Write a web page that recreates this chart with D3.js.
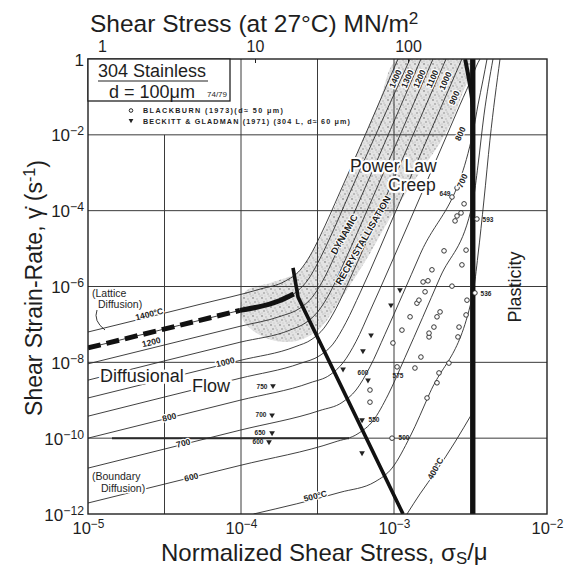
<!DOCTYPE html>
<html><head><meta charset="utf-8">
<script src="https://cdn.jsdelivr.net/npm/d3@7"></script>
<style>
body{margin:0;background:#fff}
svg text{font-family:"Liberation Sans",Arial,sans-serif;fill:#1e1e1e}
</style></head><body>
<svg id="map" width="571" height="569"></svg>
<script>
// ---------- axis values ----------
const stressTicks = [1e-5, 1e-4, 1e-3, 1e-2];            // normalized shear stress σs/μ
const rateTicks   = [1, 1e-2, 1e-4, 1e-6, 1e-8, 1e-10, 1e-12]; // shear strain-rate (1/s)
const gridStressExp = [-4.5, -4, -3.5, -3, -2.5];
const gridRateExp   = [-2, -4, -6, -8, -10];
const shearStressTicks = [1, 10, 100];                    // MN/m² at 27 °C
const shearModulus = 81000;                               // MN/m², 304 stainless at 27 °C

// ---------- temperature contours: [log10(σs/μ), log10(γ̇)] ----------
const contour1400 = [[-5,-7.20],[-4.268,-6.47],[-3.876,-6.07],[-3.712,-5.86],[-3.614,-5.57],[-3.549,-5.19],[-3.484,-4.68],[-3.353,-3.51],[-2.974,0]];
const contour1300 = [[-5,-7.62],[-4.007,-6.63],[-3.745,-6.37],[-3.614,-6.06],[-3.562,-5.82],[-3.497,-5.37],[-3.418,-4.71],[-3.288,-3.52],[-2.895,0]];
const contour1200 = [[-5,-8.04],[-4.007,-7.05],[-3.745,-6.79],[-3.614,-6.57],[-3.536,-6.29],[-3.471,-5.89],[-3.386,-5.19],[-3.222,-3.70],[-2.824,0]];
const contour1100 = [[-5,-8.47],[-4.007,-7.47],[-3.680,-7.15],[-3.575,-6.95],[-3.497,-6.66],[-3.418,-6.16],[-3.320,-5.31],[-3.157,-3.82],[-2.745,0]];
const contour1000 = [[-5,-8.94],[-4.007,-7.95],[-3.647,-7.59],[-3.536,-7.39],[-3.458,-7.10],[-3.379,-6.58],[-3.288,-5.80],[-3.092,-4.00],[-2.660,0]];
const contour900  = [[-5,-9.42],[-4.007,-8.42],[-3.614,-8.03],[-3.484,-7.82],[-3.399,-7.52],[-3.314,-6.95],[-3.222,-6.17],[-2.961,-3.76],[-2.556,0]];
const contour800  = [[-5,-10.0],[-4.007,-9.00],[-3.549,-8.54],[-3.418,-8.33],[-3.333,-8.01],[-3.248,-7.45],[-3.157,-6.65],[-2.895,-4.25],[-2.569,-1.21],[-2.484,-0.42],[-2.464,-0.21],[-2.438,0]];
const contour700  = [[-5,-10.79],[-4.007,-9.79],[-3.484,-9.27],[-3.340,-9.06],[-3.248,-8.73],[-3.157,-8.12],[-3.059,-7.26],[-2.830,-5.16],[-2.484,-1.94],[-2.451,-1.21],[-2.418,-0.55],[-2.392,0]];
const contour600  = [[-5,-11.71],[-4.007,-10.72],[-3.386,-10.10],[-3.235,-9.88],[-3.137,-9.54],[-3.039,-8.86],[-2.928,-7.87],[-2.699,-5.76],[-2.484,-3.76],[-2.451,-2.80],[-2.412,-1.48],[-2.353,0]];
const contour500  = [[-3.918,-12],[-3.353,-11.43],[-3.124,-11.15],[-3.013,-10.79],[-2.895,-9.96],[-2.765,-8.80],[-2.484,-6.19],[-2.451,-5.17],[-2.412,-3.72],[-2.373,-2.14],[-2.307,0]];
const contour400  = [[-2.915,-12],[-2.830,-11.47],[-2.725,-10.87],[-2.601,-10.10],[-2.484,-9.31]];

// ---------- field boundaries ----------
const latticeBoundaryDashed = [[-5,-7.62],[-4.007,-6.63]];
const latticeBoundarySolid  = [[-4.007,-6.63],[-3.745,-6.37],[-3.655,-6.20]];
const creepBoundary = [[-3.660,-5.51],[-3.627,-6.28],[-2.941,-12]];
const plasticityStressExp = -2.484;
const plasticityKnee = [[-2.535,0],[-2.497,-0.80],[-2.484,-1.25]];
const recrystallisationField = [[-2.974,0],[-3.092,-1.08],[-3.209,-2.19],[-3.320,-3.24],[-3.431,-4.30],[-3.536,-5.09],[-3.627,-5.62],[-3.810,-5.91],[-3.974,-6.14],[-3.993,-6.83],[-3.863,-7.31],[-3.667,-7.46],[-3.497,-7.15],[-3.353,-6.36],[-3.190,-5.35],[-3.013,-4.11],[-2.830,-2.98],[-2.667,-2.00],[-2.569,-1.08],[-2.503,0]];

// ---------- experimental data ----------
const blackburnPoints = [[-3.007,-7.49],[-2.948,-7.15],[-2.895,-6.80],[-2.850,-6.44],[-2.837,-6.36],[-2.797,-6.14],[-2.810,-5.88],[-2.778,-5.85],[-2.752,-5.56],[-2.673,-5.06],[-2.601,-4.27],[-2.588,-4.14],[-2.562,-4.06],[-2.542,-3.82],[-2.980,-8.12],
  [-2.863,-8.15],[-2.824,-7.86],[-2.771,-7.33],[-2.771,-7.23],[-2.739,-7.07],[-2.719,-6.80],[-2.699,-6.67],[-2.621,-5.99],[-2.556,-5.43],[-2.529,-5.04],
  [-2.784,-8.94],[-2.719,-8.54],[-2.706,-8.28],[-2.641,-8.02],[-2.582,-7.33],[-2.575,-7.07],[-2.529,-6.75],[-2.523,-6.36],
  [-3.157,-8.73],[-3.157,-9.05],[-2.458,-4.22],[-2.471,-6.17],[-2.621,-3.64],[-2.588,-3.40],[-3.013,-10.0]];
const beckittPoints = [[-3.333,-8.18],[-3.203,-7.70],[-3.150,-7.28],[-3.020,-6.49],[-2.961,-6.09],[-3.170,-8.47],[-3.791,-8.62],[-3.797,-9.39],[-3.797,-9.86],[-3.817,-10.10],[-3.209,-9.52],[-3.209,-10.39]];

const contours = [
  {t:1400, pts:contour1400}, {t:1300, pts:contour1300}, {t:1200, pts:contour1200},
  {t:1100, pts:contour1100}, {t:1000, pts:contour1000}, {t:900, pts:contour900},
  {t:800, pts:contour800}, {t:700, pts:contour700}, {t:600, pts:contour600},
  {t:500, pts:contour500}, {t:400, pts:contour400}
];

// ---------- layout ----------
const L = 88, R = 547, T = 59, B = 514;
const svg = d3.select("#map");
const x = d3.scaleLog().domain([1e-5, 1e-2]).range([L, R]);
const y = d3.scaleLog().domain([1e-12, 1]).range([B, T]);
const xTop = d3.scaleLog().domain([1e-5 * shearModulus, 1e-2 * shearModulus]).range([L, R]);
const px = e => x(Math.pow(10, e));
const py = e => y(Math.pow(10, e));

const defs = svg.append("defs");
defs.append("clipPath").attr("id", "plotClip").append("rect")
  .attr("x", L).attr("y", T).attr("width", R - L).attr("height", B - T);
const pat = defs.append("pattern").attr("id", "stipple").attr("patternUnits", "userSpaceOnUse")
  .attr("width", 9).attr("height", 9);
pat.append("rect").attr("width", 9).attr("height", 9).attr("fill", "#e3e3e3");
[[1,1,0.9,"#959595"],[5,2,0.7,"#ababab"],[3,5,0.8,"#888"],[7,6,0.7,"#a0a0a0"],[1,7,0.6,"#b0b0b0"],[6,4,0.5,"#999"],[8,8,0.6,"#a5a5a5"],[4,8,0.5,"#b5b5b5"]]
  .forEach(([cx, cy, r, c]) => pat.append("circle").attr("cx", cx).attr("cy", cy).attr("r", r).attr("fill", c));

const plot = svg.append("g").attr("clip-path", "url(#plotClip)");

// shaded dynamic recrystallisation band
plot.append("path")
  .attr("d", d3.line().x(d => px(d[0])).y(d => py(d[1])).curve(d3.curveCatmullRomClosed)(recrystallisationField))
  .attr("fill", "url(#stipple)").attr("stroke", "none");

// grid (the half-decade line left of 10^-4 starts below the legend)
plot.selectAll(".gv").data(gridStressExp).join("line")
  .attr("x1", d => px(d)).attr("x2", d => px(d))
  .attr("y1", d => d === -4.5 ? py(-2) : T).attr("y2", B)
  .attr("stroke", "#3a3a3a").attr("stroke-width", 1);
plot.selectAll(".gh").data(gridRateExp).join("line")
  .attr("x1", L).attr("x2", R).attr("y1", d => py(d)).attr("y2", d => py(d))
  .attr("stroke", "#3a3a3a").attr("stroke-width", 1);
// heavier run along 10^-10
plot.append("line").attr("x1", 112).attr("x2", 349).attr("y1", py(-10)).attr("y2", py(-10))
  .attr("stroke", "#2a2a2a").attr("stroke-width", 2);

// contours
const lineGen = d3.line().x(d => px(d[0])).y(d => py(d[1])).curve(d3.curveMonotoneX);
plot.selectAll(".contour").data(contours).join("path")
  .attr("d", d => lineGen(d.pts)).attr("fill", "none")
  .attr("stroke", "#2b2b2b").attr("stroke-width", 0.9);

// field boundaries
const straight = d3.line().x(d => px(d[0])).y(d => py(d[1]));
plot.append("path").attr("d", straight(latticeBoundaryDashed)).attr("fill", "none")
  .attr("stroke", "#111").attr("stroke-width", 5).attr("stroke-dasharray", "13,6");
plot.append("path").attr("d", lineGen(latticeBoundarySolid)).attr("fill", "none")
  .attr("stroke", "#111").attr("stroke-width", 5);
plot.append("path").attr("d", straight(creepBoundary)).attr("fill", "none")
  .attr("stroke", "#111").attr("stroke-width", 3.6);
plot.append("line").attr("x1", px(plasticityStressExp)).attr("x2", px(plasticityStressExp))
  .attr("y1", T).attr("y2", B).attr("stroke", "#111").attr("stroke-width", 5);
plot.append("path").attr("d", d3.line().x(d => px(d[0])).y(d => py(d[1])).curve(d3.curveBasis)(plasticityKnee))
  .attr("fill", "none").attr("stroke", "#111").attr("stroke-width", 4);

// experimental points
plot.selectAll(".bb").data(blackburnPoints).join("circle")
  .attr("cx", d => px(d[0])).attr("cy", d => py(d[1])).attr("r", 2.3)
  .attr("fill", "#fff").attr("stroke", "#222").attr("stroke-width", 0.9);
const tri = d3.symbol().type(d3.symbolTriangle).size(14);
plot.selectAll(".bg").data(beckittPoints).join("path")
  .attr("d", tri).attr("transform", d => `translate(${px(d[0])},${py(d[1])}) rotate(180)`)
  .attr("fill", "#222");

// frame
svg.append("rect").attr("x", L).attr("y", T).attr("width", R - L).attr("height", B - T)
  .attr("fill", "none").attr("stroke", "#222").attr("stroke-width", 1.4);

// ---------- axes ----------
function powLabel(sel, v) {
  const e = Math.round(Math.log10(v));
  if (e === 0) { sel.text("1"); return; }
  sel.append("tspan").text("10");
  sel.append("tspan").attr("dy", "-0.48em").attr("font-size", "0.72em").text("\u2212" + (-e));
}
const gBottom = svg.append("g").attr("transform", `translate(0,${B})`)
  .call(d3.axisBottom(x).tickValues(stressTicks).tickSize(0).tickFormat(""));
gBottom.select(".domain").remove();
gBottom.selectAll(".tick").append("text").attr("y", 20).attr("text-anchor", "middle")
  .attr("font-size", 16.5).attr("fill", "#1e1e1e").each(function(d) { powLabel(d3.select(this), d); });

const gLeft = svg.append("g").attr("transform", `translate(${L},0)`)
  .call(d3.axisLeft(y).tickValues(rateTicks).tickSize(0).tickFormat(""));
gLeft.select(".domain").remove();
gLeft.selectAll(".tick").append("text").attr("x", -4).attr("y", 6).attr("text-anchor", "end")
  .attr("font-size", 17).attr("fill", "#1e1e1e").each(function(d) { powLabel(d3.select(this), d); });

const gTop = svg.append("g").attr("transform", `translate(0,${T})`)
  .call(d3.axisBottom(xTop).tickValues(shearStressTicks).tickSize(4).tickFormat(""));
gTop.select(".domain").remove();
gTop.selectAll(".tick line").attr("stroke", "#222");
gTop.selectAll(".tick").append("text").attr("y", -7).attr("text-anchor", "middle")
  .attr("font-size", 16).attr("fill", "#1e1e1e").text(d => d3.format("d")(d));

// titles
const topTitle = svg.append("text").attr("x", 90).attr("y", 32).attr("font-size", 24.5);
topTitle.append("tspan").text("Shear Stress (at 27°C) MN/m");
topTitle.append("tspan").attr("dy", "-0.45em").attr("font-size", "0.7em").text("2");

const bottomTitle = svg.append("text").attr("x", 161).attr("y", 561).attr("font-size", 24);
bottomTitle.append("tspan").text("Normalized Shear Stress, σ");
bottomTitle.append("tspan").attr("dy", "0.2em").attr("font-size", "0.7em").text("S");
bottomTitle.append("tspan").attr("dy", "-0.2em").text("/μ");

const leftTitle = svg.append("text").attr("transform", "translate(42,288) rotate(-90)")
  .attr("text-anchor", "middle").attr("font-size", 23);
leftTitle.append("tspan").text("Shear Strain-Rate, γ\u0307 (s");
leftTitle.append("tspan").attr("dy", "-0.45em").attr("font-size", "0.7em").text("-1");
leftTitle.append("tspan").attr("dy", "0.45em").text(")");

// ---------- legend box ----------
svg.append("rect").attr("x", L).attr("y", T).attr("width", 142).attr("height", 42)
  .attr("fill", "#fff").attr("stroke", "#222").attr("stroke-width", 1.3);
svg.append("text").attr("x", 98).attr("y", 77).attr("font-size", 18).text("304 Stainless");
svg.append("line").attr("x1", 98).attr("x2", 208).attr("y1", 81).attr("y2", 81).attr("stroke", "#222").attr("stroke-width", 1.2);
svg.append("text").attr("x", 109).attr("y", 97.5).attr("font-size", 18).text("d = 100μm");
svg.append("text").attr("x", 207).attr("y", 97).attr("font-size", 8).attr("fill", "#666").text("74/79");

const legText = svg.append("g").attr("font-weight", "bold").attr("font-size", 7.2);
legText.append("circle").attr("cx", 131).attr("cy", 110.5).attr("r", 1.8).attr("fill", "#fff").attr("stroke", "#222");
legText.append("text").attr("x", 143).attr("y", 113).attr("textLength", 140).attr("lengthAdjust", "spacing")
  .text("BLACKBURN (1973)(d\u2248 50 μm)");
legText.append("path").attr("d", tri.size(10)).attr("transform", "translate(131,120.5) rotate(180)").attr("fill", "#222");
legText.append("text").attr("x", 143).attr("y", 123.5).attr("textLength", 207).attr("lengthAdjust", "spacing")
  .text("BECKITT & GLADMAN (1971) (304 L, d\u2248 60 μm)");

// ---------- field names ----------
function halo(sel, w) { return sel.attr("stroke", "#fff").attr("stroke-width", w).attr("paint-order", "stroke").attr("stroke-linejoin", "round"); }
halo(svg.append("text").attr("x", 350).attr("y", 172).attr("font-size", 17.5).text("Power Law"), 4);
halo(svg.append("text").attr("x", 388).attr("y", 191).attr("font-size", 17.5).text("Creep"), 4);
halo(svg.append("text").attr("x", 100).attr("y", 382).attr("font-size", 18).text("Diffusional"), 5);
halo(svg.append("text").attr("x", 192).attr("y", 392).attr("font-size", 18).text("Flow"), 5);
svg.append("text").attr("transform", "translate(521,287) rotate(-90)").attr("text-anchor", "middle")
  .attr("font-size", 18).text("Plasticity");
halo(svg.append("text").attr("x", 92).attr("y", 297).attr("font-size", 10.5).text("(Lattice"), 3);
halo(svg.append("text").attr("x", 98).attr("y", 308).attr("font-size", 10.5).text("Diffusion)"), 3);
svg.append("path").attr("d", "M97,310 Q93,321 105,330").attr("fill", "none").attr("stroke", "#222").attr("stroke-width", 0.9);
halo(svg.append("text").attr("x", 92).attr("y", 480).attr("font-size", 10.5).text("(Boundary"), 3);
halo(svg.append("text").attr("x", 101).attr("y", 492).attr("font-size", 10.5).text("Diffusion)"), 3);
halo(svg.append("text").attr("transform", "translate(347,236) rotate(-60)").attr("text-anchor", "middle")
  .attr("font-size", 9.5).attr("font-weight", "bold").text("DYNAMIC"), 2);
halo(svg.append("text").attr("transform", "translate(366,242) rotate(-60)").attr("text-anchor", "middle")
  .attr("font-size", 9.5).attr("font-weight", "bold").text("RECRYSTALLISATION"), 2);

// ---------- contour and data labels ----------
const contourLabels = [
  ["1400°C", 150, 317, -14], ["1200", 152, 345, -14], ["1000", 226, 365, -14],
  ["800", 170, 420, -14], ["700", 184, 446, -14], ["600", 192, 480, -14],
  ["500°C", 316, 499, -14], ["400°C", 438, 470, -60],
  ["1400", 398, 80, -66], ["1300", 410, 80, -66], ["1200", 422, 80, -66], ["1100", 435, 80, -66],
  ["1000", 448, 82, -66], ["900", 457, 99, -66], ["800", 463, 135, -66], ["700", 465, 182, -66]
];
contourLabels.forEach(([t, lx, ly, a]) => {
  halo(svg.append("text").attr("transform", `translate(${lx},${ly}) rotate(${a})`)
    .attr("text-anchor", "middle").attr("font-size", 8.5).attr("font-weight", "bold").text(t), 2.5);
});
const dataLabels = [
  ["750", 262, 389], ["700", 261, 417], ["650", 260, 435], ["600", 258, 444],
  ["550", 374, 422], ["500", 404, 440], ["575", 398, 378], ["600", 363, 375],
  ["593", 488, 222], ["536", 486, 296], ["649", 445, 196]
];
dataLabels.forEach(([t, lx, ly]) => {
  svg.append("text").attr("x", lx).attr("y", ly).attr("text-anchor", "middle")
    .attr("font-size", 6.5).attr("font-weight", "bold").text(t);
});
</script>
</body></html>
